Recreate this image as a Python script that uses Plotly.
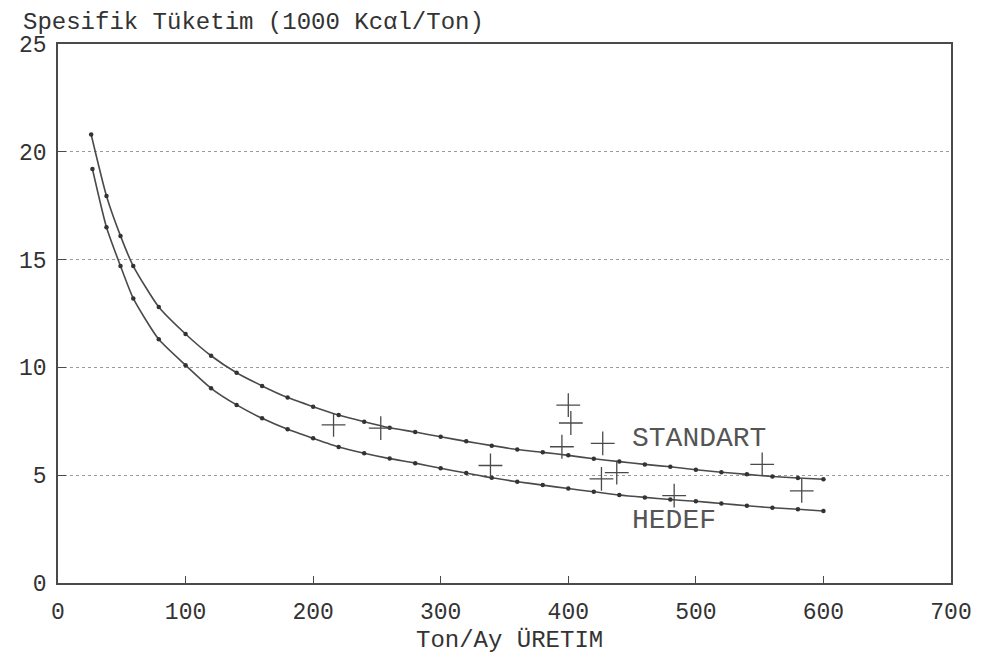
import plotly.graph_objects as go

# ---- data ----
standart_x = [26, 38, 49, 59, 79, 100, 120, 140, 160, 180, 200, 220, 240, 260, 280, 300,
              320, 340, 360, 380, 400, 420, 440, 460, 480, 500, 520, 540, 560, 580, 600]
standart_y = [20.8, 17.95, 16.1, 14.7, 12.8, 11.55, 10.54, 9.75, 9.14, 8.6, 8.18, 7.79, 7.48,
              7.2, 7.0, 6.78, 6.57, 6.37, 6.19, 6.06, 5.92, 5.76, 5.63, 5.5, 5.39, 5.25, 5.14,
              5.04, 4.94, 4.87, 4.81]

hedef_x = [27, 38, 49, 59, 79, 100, 120, 140, 160, 180, 200, 220, 240, 260, 280, 300,
           320, 340, 360, 380, 400, 420, 440, 460, 480, 500, 520, 540, 560, 580, 600]
hedef_y = [19.2, 16.5, 14.7, 13.2, 11.3, 10.1, 9.03, 8.26, 7.64, 7.13, 6.71, 6.31, 6.02,
           5.77, 5.56, 5.32, 5.1, 4.88, 4.7, 4.54, 4.38, 4.23, 4.08, 3.97, 3.87, 3.79, 3.69,
           3.58, 3.49, 3.42, 3.34]

obs_x = [216, 253, 339, 395, 400, 402, 427, 426, 438, 483, 552, 583]
obs_y = [7.33, 7.18, 5.45, 6.32, 8.25, 7.42, 6.48, 4.83, 5.12, 4.05, 5.5, 4.27]

x_ticks = [0, 100, 200, 300, 400, 500, 600, 700]
y_ticks = [0, 5, 10, 15, 20, 25]

title_text = "Spesifik Tüketim (1000 Kcαl/Ton)"
xaxis_text = "Ton/Ay ÜRETIM"

INK = "#4a4a4a"
FONT = "Liberation Mono"

fig = go.Figure()

for xs, ys in [(standart_x, standart_y), (hedef_x, hedef_y)]:
    fig.add_trace(go.Scatter(
        x=xs, y=ys, mode="lines+markers",
        line=dict(color=INK, width=1.6, shape="spline", smoothing=0.6),
        marker=dict(color="#333333", size=4.5, symbol="circle"),
        showlegend=False, hoverinfo="x+y",
    ))

fig.add_trace(go.Scatter(
    x=obs_x, y=obs_y, mode="markers",
    marker=dict(symbol="cross-thin", size=17, line=dict(color=INK, width=1.3)),
    showlegend=False,
))

fig.add_annotation(x=448, y=6.7, xref="x", yref="y", text="STANDART", showarrow=False,
                   xanchor="left", yanchor="middle",
                   font=dict(family=FONT, size=28, color="#555555"))
fig.add_annotation(x=448, y=2.9, xref="x", yref="y", text="HEDEF", showarrow=False,
                   xanchor="left", yanchor="middle",
                   font=dict(family=FONT, size=28, color="#555555"))

fig.add_annotation(x=-0.041, y=1.04, xref="paper", yref="paper", text=title_text,
                   showarrow=False, xanchor="left", yanchor="middle",
                   font=dict(family=FONT, size=24, color="#333333"))
fig.add_annotation(x=0.506, y=-0.106, xref="paper", yref="paper", text=xaxis_text,
                   showarrow=False, xanchor="center", yanchor="middle",
                   font=dict(family=FONT, size=24, color="#333333"))

fig.update_layout(
    width=982, height=656,
    margin=dict(l=50, r=39, t=36, b=81),
    paper_bgcolor="white", plot_bgcolor="white",
    font=dict(family=FONT, size=23, color="#333333"),
    xaxis=dict(range=[0, 700], tickvals=x_ticks, ticktext=[str(v) for v in x_ticks],
               showgrid=False, zeroline=False, showline=True, linecolor=INK, linewidth=1.6,
               mirror=True, ticks="inside", ticklen=7, tickcolor=INK, tickwidth=1.2,
               ticklabelstandoff=7),
    yaxis=dict(range=[0, 25], tickvals=y_ticks, ticktext=[str(v) for v in y_ticks],
               showgrid=True, gridcolor="#9a9a9a", griddash="dot", gridwidth=1.4,
               zeroline=False, showline=True, linecolor=INK, linewidth=1.6,
               mirror=True, ticks="inside", ticklen=8, tickcolor=INK, tickwidth=1.2,
               ticklabelstandoff=5),
)

fig.write_html("out.html")
